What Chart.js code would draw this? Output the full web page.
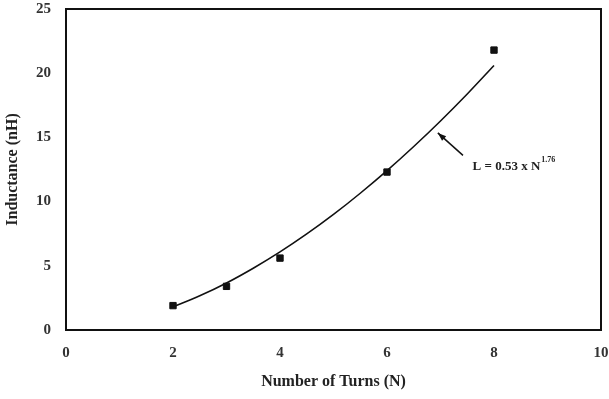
<!DOCTYPE html>
<html>
<head>
<meta charset="utf-8">
<script src="https://cdn.jsdelivr.net/npm/chart.js@4/dist/chart.umd.min.js"></script>
<style>
  html, body { margin: 0; padding: 0; background: #fff; }
  #wrap { width: 609px; height: 399px; }
</style>
</head>
<body>
<div id="wrap"><canvas id="inductanceChart" width="609" height="399"></canvas></div>
<script>
// Measured points (turns vs inductance)
const turns = [2, 3, 4, 6, 8];
const inductance = [1.9, 3.4, 5.6, 12.3, 21.8];

// Fitted curve
const fitTurns = [2, 2.5, 3, 3.5, 4, 4.5, 5, 5.5, 6, 6.5, 7, 7.5, 8];
const fitValues = [1.8, 2.66, 3.66, 4.81, 6.08, 7.48, 9.0, 10.65, 12.41, 14.29, 16.28, 18.38, 20.6];

const xTicks = [0, 2, 4, 6, 8, 10];
const yTicks = [0, 5, 10, 15, 20, 25];

const serif = "'Liberation Serif', 'DejaVu Serif', serif";

// Box around the plot area plus the fit-equation label with its arrow
const annotationPlugin = {
    id: 'annotation',
    afterDraw(chart) {
        const { ctx, chartArea, scales } = chart;
        ctx.save();
        ctx.strokeStyle = '#111';
        ctx.lineWidth = 2;
        ctx.strokeRect(chartArea.left, chartArea.top, chartArea.right - chartArea.left, chartArea.bottom - chartArea.top);

        // arrow
        const x1 = scales.x.getPixelForValue(7.42), y1 = scales.y.getPixelForValue(13.6);
        const x2 = scales.x.getPixelForValue(6.95), y2 = scales.y.getPixelForValue(15.35);
        ctx.lineWidth = 1.5;
        ctx.beginPath();
        ctx.moveTo(x1, y1);
        ctx.lineTo(x2, y2);
        ctx.stroke();
        const ang = Math.atan2(y2 - y1, x2 - x1);
        ctx.fillStyle = '#111';
        ctx.beginPath();
        ctx.moveTo(x2, y2);
        ctx.lineTo(x2 - 9 * Math.cos(ang - 0.35), y2 - 9 * Math.sin(ang - 0.35));
        ctx.lineTo(x2 - 9 * Math.cos(ang + 0.35), y2 - 9 * Math.sin(ang + 0.35));
        ctx.closePath();
        ctx.fill();

        // label
        const tx = scales.x.getPixelForValue(7.6), ty = scales.y.getPixelForValue(12.7);
        ctx.fillStyle = '#222';
        ctx.textBaseline = 'middle';
        ctx.textAlign = 'left';
        ctx.font = 'bold 13px ' + serif;
        const main = 'L = 0.53 x N';
        ctx.fillText(main, tx, ty);
        const w = ctx.measureText(main).width;
        ctx.font = 'bold 8px ' + serif;
        ctx.fillText('1.76', tx + w + 1, ty - 7);
        ctx.restore();
    }
};

const ctx = document.getElementById('inductanceChart').getContext('2d');
new Chart(ctx, {
    type: 'scatter',
    data: {
        datasets: [
            {
                label: 'Measured',
                data: turns.map((n, i) => ({ x: n, y: inductance[i] })),
                pointStyle: 'rect',
                pointRadius: 4.5,
                pointBackgroundColor: '#111',
                pointBorderColor: '#111',
                showLine: false
            },
            {
                label: 'Fit',
                data: fitTurns.map((n, i) => ({ x: n, y: fitValues[i] })),
                showLine: true,
                pointRadius: 0,
                borderColor: '#111',
                borderWidth: 1.6,
                cubicInterpolationMode: 'monotone'
            }
        ]
    },
    options: {
        responsive: false,
        animation: false,
        layout: { padding: { left: 0, right: 8, top: 9, bottom: 0 } },
        plugins: {
            legend: { display: false },
            tooltip: { enabled: false }
        },
        scales: {
            x: {
                type: 'linear',
                min: 0,
                max: 10,
                afterBuildTicks: s => { s.ticks = xTicks.map(v => ({ value: v })); },
                afterFit: s => { s.height = 69; s.paddingLeft = 0; s.paddingRight = 0; },
                grid: { display: false, drawTicks: false },
                border: { display: true, color: '#111', width: 2 },
                ticks: {
                    color: '#333',
                    padding: 14,
                    font: { family: serif, size: 15, weight: 'bold' }
                },
                title: {
                    display: true,
                    text: 'Number of Turns (N)',
                    color: '#222',
                    padding: { top: 4, bottom: 8 },
                    font: { family: serif, size: 16, weight: 'bold' }
                }
            },
            y: {
                type: 'linear',
                min: 0,
                max: 25,
                afterBuildTicks: s => { s.ticks = yTicks.map(v => ({ value: v })); },
                afterFit: s => { s.width = 66; s.paddingTop = 0; s.paddingBottom = 0; },
                grid: { display: false, drawTicks: false },
                border: { display: true, color: '#111', width: 2 },
                ticks: {
                    color: '#333',
                    padding: 15,
                    font: { family: serif, size: 15, weight: 'bold' }
                },
                title: {
                    display: true,
                    text: 'Inductance (nH)',
                    color: '#222',
                    padding: { top: 3, bottom: 0 },
                    font: { family: serif, size: 16, weight: 'bold' }
                }
            }
        }
    },
    plugins: [annotationPlugin]
});
</script>
</body>
</html>
